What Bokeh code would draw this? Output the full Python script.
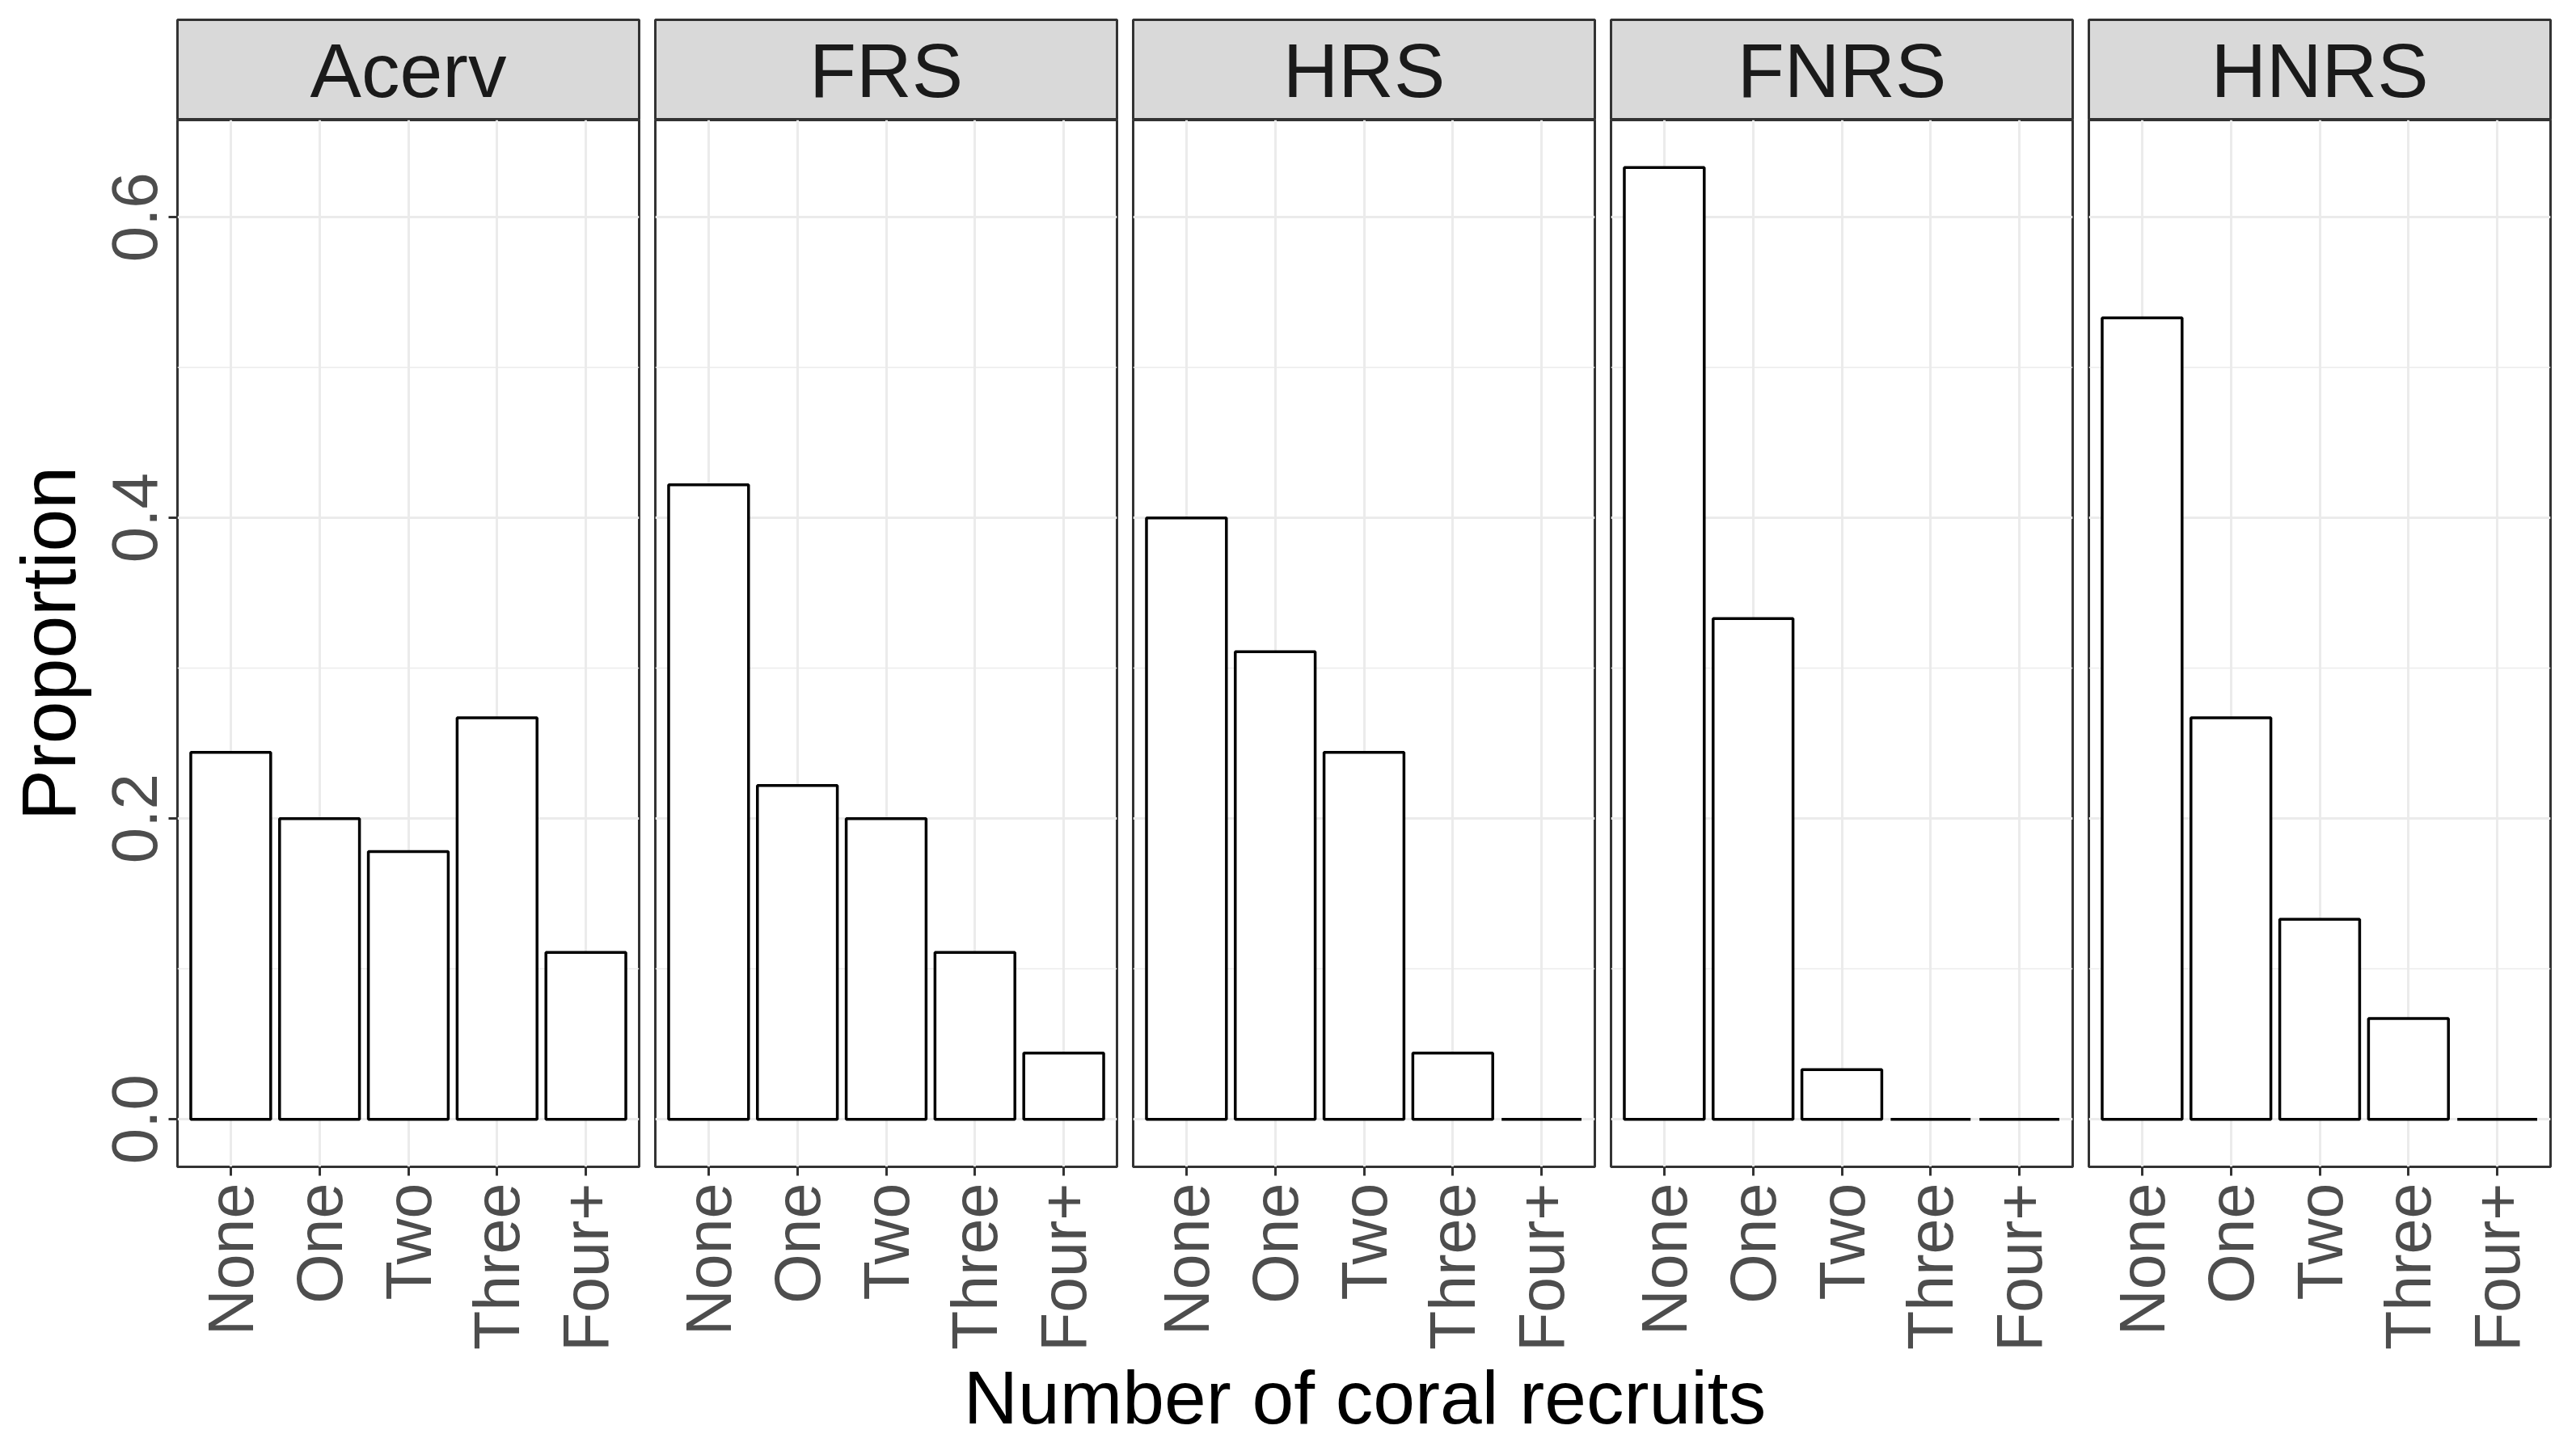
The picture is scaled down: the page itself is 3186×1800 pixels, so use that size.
from math import pi
from bokeh.plotting import figure
from bokeh.models import Range1d, FactorRange, FixedTicker, Label, ColumnDataSource, NumeralTickFormatter
from bokeh.layouts import row, column
from bokeh.embed import file_html
from bokeh.resources import INLINE

# ---------------- data ----------------
categories = ["None", "One", "Two", "Three", "Four+"]
panels = ["Acerv", "FRS", "HRS", "FNRS", "HNRS"]
acerv = [0.244, 0.200, 0.178, 0.267, 0.111]
frs = [0.422, 0.222, 0.200, 0.111, 0.044]
hrs = [0.400, 0.311, 0.244, 0.044, 0.0]
fnrs = [0.633, 0.333, 0.033, 0.0, 0.0]
hnrs = [0.533, 0.267, 0.133, 0.067, 0.0]
series = [acerv, frs, hrs, fnrs, hnrs]
y_ticks = [0.0, 0.2, 0.4, 0.6]
y_minor = [0.1, 0.3, 0.5]
x_title = "Number of coral recruits"
y_title = "Proportion"

# ---------------- style ----------------
FONT = "Liberation Sans"
FRAME_W = 571
STRIP_H = 124
STRIP_TOP = 24
PANEL_H = 1299
LEFT = 219
BOTTOM = 228
GAP = 16
TITLE_H = 112
GRID = "#ebebeb"
DARK = "#333333"
ymax = max(max(s) for s in series)
y0, y1 = -0.05 * ymax, ymax * 1.05

strips = []
plots = []
for i, (name, vals) in enumerate(zip(panels, series)):
    first = i == 0
    lb = LEFT if first else 2
    # strip
    s = figure(title=None, width=lb + FRAME_W + 2, height=STRIP_TOP + STRIP_H,
               x_range=Range1d(0, 1), y_range=Range1d(0, 1),
               x_axis_location=None, y_axis_location=None,
               toolbar_location=None, output_backend="svg",
               min_border_left=lb, min_border_right=2,
               min_border_top=STRIP_TOP, min_border_bottom=0)
    s.grid.visible = False
    s.background_fill_color = "#d9d9d9"
    s.border_fill_color = "white"
    s.outline_line_color = DARK
    s.outline_line_width = 3
    s.add_layout(Label(x=0.5, y=0.5, text=name, text_align="center", text_baseline="middle",
                       text_font=FONT, text_font_size="95px", text_color="#1a1a1a"))
    strips.append(s)

    # panel
    p = figure(title=None, width=lb + FRAME_W + 2, height=PANEL_H + BOTTOM,
               x_range=FactorRange(factors=categories, range_padding=0.1,
                                   range_padding_units="absolute"),
               y_range=Range1d(y0, y1),
               toolbar_location=None, output_backend="svg",
               min_border_left=lb, min_border_right=2,
               min_border_top=0, min_border_bottom=BOTTOM)
    src = ColumnDataSource(dict(cat=categories, val=vals))
    p.vbar(x="cat", top="val", bottom=0, width=0.9, source=src,
           fill_color="white", line_color="black", line_width=3.5)
    p.background_fill_color = "white"
    p.border_fill_color = "white"
    p.outline_line_color = DARK
    p.outline_line_width = 3

    p.xgrid.grid_line_color = GRID
    p.xgrid.grid_line_width = 3
    p.ygrid.ticker = FixedTicker(ticks=y_ticks, minor_ticks=y_minor)
    p.ygrid.grid_line_color = GRID
    p.ygrid.grid_line_width = 3
    p.ygrid.minor_grid_line_color = GRID
    p.ygrid.minor_grid_line_width = 1.6

    xa = p.xaxis[0]
    xa.axis_line_color = None
    xa.major_tick_line_color = DARK
    xa.major_tick_line_width = 3
    xa.major_tick_out = 11
    xa.major_tick_in = 0
    xa.major_label_orientation = pi / 2
    xa.major_label_text_font = FONT
    xa.major_label_text_font_size = "79px"
    xa.major_label_text_color = "#4d4d4d"
    xa.major_label_standoff = 9

    ya = p.yaxis[0]
    ya.ticker = FixedTicker(ticks=y_ticks, minor_ticks=y_minor)
    if first:
        ya.formatter = NumeralTickFormatter(format="0.0")
        ya.axis_line_color = None
        ya.major_tick_line_color = DARK
        ya.major_tick_line_width = 3
        ya.major_tick_out = 11
        ya.major_tick_in = 0
        ya.minor_tick_line_color = None
        ya.major_label_orientation = "parallel"
        ya.major_label_text_font = FONT
        ya.major_label_text_font_size = "80px"
        ya.major_label_text_color = "#4d4d4d"
        ya.major_label_standoff = 14
        ya.axis_label = y_title
        ya.axis_label_text_font = FONT
        ya.axis_label_text_font_size = "95px"
        ya.axis_label_text_font_style = "normal"
        ya.axis_label_text_color = "black"
        ya.axis_label_standoff = 24
    else:
        ya.visible = False
    plots.append(p)

# shared x-axis title, centred under the five panels
total_w = LEFT + FRAME_W + 4 + 4 * (FRAME_W + 4 + GAP)
t = figure(title=None, width=total_w, height=TITLE_H, x_range=Range1d(0, 1), y_range=Range1d(0, 1),
           x_axis_location=None, y_axis_location=None,
           toolbar_location=None, output_backend="svg",
           min_border_left=LEFT, min_border_right=2, min_border_top=0, min_border_bottom=0)
t.grid.visible = False
t.outline_line_color = None
t.border_fill_color = "white"
t.add_layout(Label(x=0.5, y=0.518, text=x_title, text_align="center", text_baseline="middle",
                   text_font=FONT, text_font_size="93px", text_color="black"))

layout = column(row(*strips, spacing=GAP), row(*plots, spacing=GAP), t, spacing=0)
open("out.html", "w").write(file_html(layout, INLINE))
